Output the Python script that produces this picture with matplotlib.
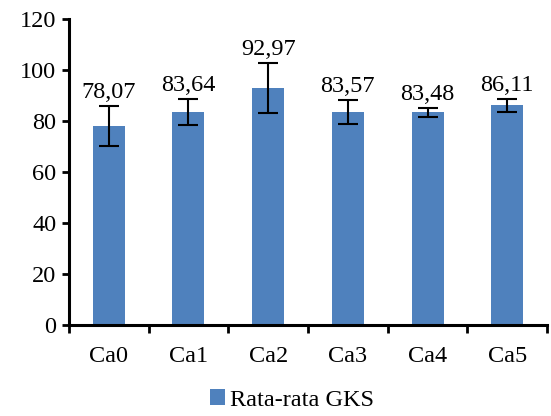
import numpy as np
import matplotlib
matplotlib.use('Agg')
import matplotlib.pyplot as plt

categories = ['Ca0', 'Ca1', 'Ca2', 'Ca3', 'Ca4', 'Ca5']
means = [78.07, 83.64, 92.97, 83.57, 83.48, 86.11]
errors = [7.8, 5.2, 9.8, 4.7, 1.8, 2.6]
labels = ['78,07', '83,64', '92,97', '83,57', '83,48', '86,11']

plt.rcParams['font.family'] = ['Liberation Serif', 'DejaVu Serif']
plt.rcParams['font.size'] = 17.5

fig = plt.figure(figsize=(5.51, 4.16), dpi=100)
ax = fig.add_axes([0.125, 0.219, 0.868, 0.735])

x = np.arange(len(categories))
bars = ax.bar(x, means, width=0.4, color='#4F81BD', label='Rata-rata GKS', zorder=2)
ax.errorbar(x, means, yerr=errors, fmt='none', ecolor='black', elinewidth=1.5,
            capsize=7, capthick=1.5, zorder=3)

for xi, m, e, lab in zip(x, means, errors, labels):
    ax.annotate(lab, (xi, m + e), xytext=(0, 2), textcoords='offset points',
                ha='center', va='bottom')

ax.set_xlim(-0.5, len(categories) - 0.5)
ax.set_ylim(0, 120)
ax.set_yticks(range(0, 121, 20))
ax.set_xticks(x)
ax.set_xticklabels(categories)
ax.set_xticks(np.arange(-0.5, len(categories), 1), minor=True)
ax.tick_params(axis='x', which='major', length=0, pad=15)
ax.tick_params(axis='x', which='minor', length=6, width=2, direction='out')
ax.tick_params(axis='y', length=5, width=2, direction='out', pad=4)

for side in ['top', 'right']:
    ax.spines[side].set_visible(False)
for side in ['left', 'bottom']:
    ax.spines[side].set_linewidth(2.2)

fig.legend(handles=[bars], labels=['Rata-rata GKS'], loc='lower center',
           bbox_to_anchor=(0.53, -0.04), frameon=False, handlelength=0.6,
           handleheight=0.6, handletextpad=0.2)

fig.savefig('out.png', dpi=100)
